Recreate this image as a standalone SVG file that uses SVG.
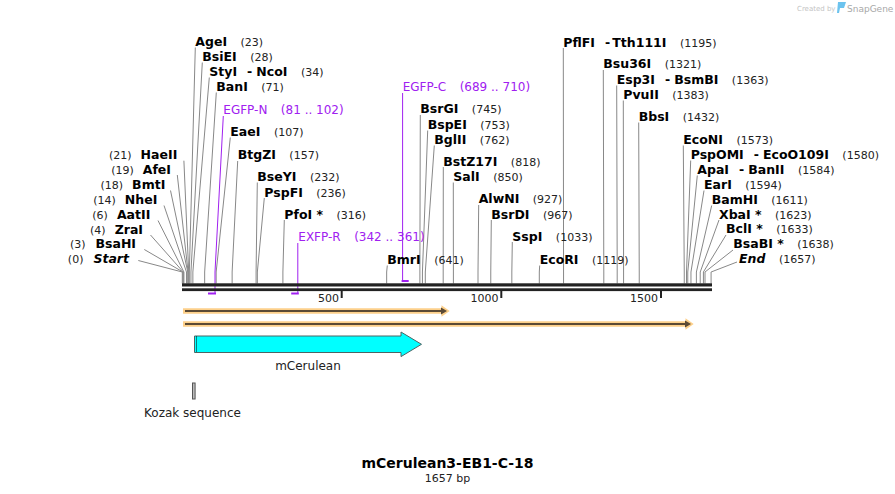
<svg xmlns="http://www.w3.org/2000/svg" width="895" height="494" viewBox="0 0 895 494">
<style>
text{font-family:"DejaVu Sans",Verdana,sans-serif}
.b{font-weight:bold;font-size:12.5px;fill:#000}
.i{font-weight:bold;font-style:italic;font-size:12.5px;fill:#000}
.n{font-size:11px;fill:#222}
.p{font-size:12px;fill:#a020f0}
.f{font-size:12px;fill:#222}
.ln{fill:none;stroke:#888;stroke-width:1}
.pl{fill:none;stroke:#a020f0;stroke-width:1}
.ph{fill:none;stroke:#a020f0;stroke-width:2}
.tk{stroke:#222;stroke-width:2}
</style>
<rect width="895" height="494" fill="#fff"/>

<g id="logo">
<text x="797" y="10.5" style="font-size:7px;fill:#c4c4c4">Created by</text>
<path d="M838,2 L846,2 L844,8 L840,8 L839,13 L837,13 Z" fill="#6cc3ee"/>
<text x="847" y="11.5" style="font-size:9px;fill:#a8a8a8">SnapGene</text>
</g>

<g id="connectors">
<polyline class="ln" points="188.71,283.5 188.71,272 183.9,160.7"/>
<polyline class="ln" points="188.07,283.5 188.07,272 177.3,175"/>
<polyline class="ln" points="187.75,283.5 187.75,272 170.5,190.5"/>
<polyline class="ln" points="186.47,283.5 186.47,272 164,205.5"/>
<polyline class="ln" points="183.92,283.5 183.92,272 158,220.5"/>
<polyline class="ln" points="183.28,283.5 183.28,272 150.5,235"/>
<polyline class="ln" points="182.96,283.5 182.96,272 144.3,249.5"/>
<polyline class="ln" points="182.3,283.5 182.3,272 138.3,260.5"/>
<polyline class="ln" points="189.34,283.5 189.34,272 195.3,47.5"/>
<polyline class="ln" points="190.94,283.5 190.94,272 202.3,62.5"/>
<polyline class="ln" points="192.86,283.5 192.86,272 209.3,77.5"/>
<polyline class="ln" points="204.67,283.5 204.67,272 216.3,92.5"/>
<polyline class="ln" points="216.17,283.5 216.17,272 230.3,137.5"/>
<polyline class="ln" points="232.13,283.5 232.13,272 237.7,161"/>
<polyline class="ln" points="256.08,283.5 256.08,272 257.3,182.5"/>
<polyline class="ln" points="257.35,283.5 257.35,272 264.3,198"/>
<polyline class="ln" points="282.9,283.5 282.9,272 284.3,220"/>
<polyline class="ln" points="386.67,283.5 386.67,272 387.3,265.5"/>
<polyline class="ln" points="419.88,283.5 419.88,272 420.3,115"/>
<polyline class="ln" points="422.43,283.5 422.43,272 427.7,130.5"/>
<polyline class="ln" points="425.31,283.5 425.31,272 434.3,145.5"/>
<polyline class="ln" points="443.19,283.5 443.19,272 443.3,167"/>
<polyline class="ln" points="453.4,283.5 453.4,272 453.3,182.5"/>
<polyline class="ln" points="478.0,283.5 478.0,272 478.7,205"/>
<polyline class="ln" points="490.77,283.5 490.77,272 491.3,220"/>
<polyline class="ln" points="511.84,283.5 511.84,272 512.3,242"/>
<polyline class="ln" points="539.3,283.5 539.3,272 539.7,265.5"/>
<polyline class="ln" points="563.56,283.5 563.56,272 563.3,48"/>
<polyline class="ln" points="603.8,283.5 603.8,272 603.3,70"/>
<polyline class="ln" points="617.2,283.5 617.2,272 616.7,85.5"/>
<polyline class="ln" points="623.59,283.5 623.59,272 623.3,100.5"/>
<polyline class="ln" points="639.24,283.5 639.24,272 638.7,122.5"/>
<polyline class="ln" points="684.26,283.5 684.26,272 683.3,145.5"/>
<polyline class="ln" points="686.5,283.5 686.5,272 690.7,160.5"/>
<polyline class="ln" points="687.77,283.5 687.77,272 697.3,175.5"/>
<polyline class="ln" points="690.96,283.5 690.96,272 704,190.5"/>
<polyline class="ln" points="696.39,283.5 696.39,272 711.7,205.5"/>
<polyline class="ln" points="700.22,283.5 700.22,272 719,220"/>
<polyline class="ln" points="703.42,283.5 703.42,272 726,235"/>
<polyline class="ln" points="705.01,283.5 705.01,272 733,250"/>
<polyline class="ln" points="711.08,283.5 711.08,272 737,262"/>
<polyline class="pl" points="223.3,116 215,272 215,293.5"/>
<line class="ph" x1="208" y1="293.5" x2="216" y2="293.5"/>
<polyline class="pl" points="297.8,243 297.8,293.5"/>
<line class="ph" x1="291.2" y1="293.5" x2="298.8" y2="293.5"/>
<polyline class="pl" points="402.6,93 402.6,281"/>
<line class="ph" x1="401.6" y1="281" x2="408.7" y2="281"/>
</g>

<g id="map">
<rect x="182" y="283.3" width="530" height="3.2" fill="#222"/>
<rect x="182" y="288.3" width="530" height="2.8" fill="#222"/>
<line class="tk" x1="341.7" y1="291" x2="341.7" y2="298"/>
<line class="tk" x1="501.3" y1="291" x2="501.3" y2="298"/>
<line class="tk" x1="661" y1="291" x2="661" y2="298"/>
<text class="n" x="339" y="301.5" text-anchor="end">500</text>
<text class="n" x="498.5" y="301.5" text-anchor="end">1000</text>
<text class="n" x="658" y="301.5" text-anchor="end">1500</text>
</g>

<g id="left-labels">
<text x="177.3" y="159.3" text-anchor="end"><tspan class="n">(21)</tspan><tspan class="b" dx="9">HaeII</tspan></text>
<text x="171" y="174" text-anchor="end"><tspan class="n">(19)</tspan><tspan class="b" dx="9">AfeI</tspan></text>
<text x="165.3" y="189" text-anchor="end"><tspan class="n">(18)</tspan><tspan class="b" dx="9">BmtI</tspan></text>
<text x="157.3" y="204" text-anchor="end"><tspan class="n">(14)</tspan><tspan class="b" dx="9">NheI</tspan></text>
<text x="150.3" y="218.7" text-anchor="end"><tspan class="n">(6)</tspan><tspan class="b" dx="9">AatII</tspan></text>
<text x="143" y="233.7" text-anchor="end"><tspan class="n">(4)</tspan><tspan class="b" dx="9">ZraI</tspan></text>
<text x="136" y="248.3" text-anchor="end"><tspan class="n">(3)</tspan><tspan class="b" dx="10">BsaHI</tspan></text>
<text x="129" y="263.3" text-anchor="end"><tspan class="n">(0)</tspan><tspan class="i" dx="10">Start</tspan></text>
</g>

<g id="top-labels">
<text x="195.3" y="46"><tspan class="b">AgeI</tspan><tspan class="n" dx="13.5">(23)</tspan></text>
<text x="202.3" y="61"><tspan class="b">BsiEI</tspan><tspan class="n" dx="13.5">(28)</tspan></text>
<text x="209.3" y="76"><tspan class="b">StyI</tspan><tspan class="b" dx="10">-</tspan><tspan class="b" dx="4">NcoI</tspan><tspan class="n" dx="13.5">(34)</tspan></text>
<text x="216.3" y="91"><tspan class="b">BanI</tspan><tspan class="n" dx="13.5">(71)</tspan></text>
<text x="230.3" y="136"><tspan class="b">EaeI</tspan><tspan class="n" dx="13.5">(107)</tspan></text>
<text x="237.7" y="159.3"><tspan class="b">BtgZI</tspan><tspan class="n" dx="13.5">(157)</tspan></text>
<text x="257.3" y="181"><tspan class="b">BseYI</tspan><tspan class="n" dx="13.5">(232)</tspan></text>
<text x="264.3" y="196.7"><tspan class="b">PspFI</tspan><tspan class="n" dx="13.5">(236)</tspan></text>
<text x="284.3" y="218.5"><tspan class="b">PfoI *</tspan><tspan class="n" dx="13.5">(316)</tspan></text>
<text x="387.3" y="264"><tspan class="b">BmrI</tspan><tspan class="n" dx="13.5">(641)</tspan></text>
<text x="420.3" y="113.3"><tspan class="b">BsrGI</tspan><tspan class="n" dx="13.5">(745)</tspan></text>
<text x="427.7" y="129"><tspan class="b">BspEI</tspan><tspan class="n" dx="13.5">(753)</tspan></text>
<text x="434.3" y="144"><tspan class="b">BglII</tspan><tspan class="n" dx="13.5">(762)</tspan></text>
<text x="443.3" y="165.7"><tspan class="b">BstZ17I</tspan><tspan class="n" dx="13.5">(818)</tspan></text>
<text x="453.3" y="181"><tspan class="b">SalI</tspan><tspan class="n" dx="13.5">(850)</tspan></text>
<text x="478.7" y="203.3"><tspan class="b">AlwNI</tspan><tspan class="n" dx="13.5">(927)</tspan></text>
<text x="491.3" y="218.7"><tspan class="b">BsrDI</tspan><tspan class="n" dx="13.5">(967)</tspan></text>
<text x="512.3" y="240.7"><tspan class="b">SspI</tspan><tspan class="n" dx="13.5">(1033)</tspan></text>
<text x="539.7" y="264"><tspan class="b">EcoRI</tspan><tspan class="n" dx="13.5">(1119)</tspan></text>
<text x="563.3" y="46.7"><tspan class="b">PflFI</tspan><tspan class="b" dx="10">-</tspan><tspan class="b" dx="4">Tth111I</tspan><tspan class="n" dx="13.5">(1195)</tspan></text>
<text x="603.3" y="68.3"><tspan class="b">Bsu36I</tspan><tspan class="n" dx="13.5">(1321)</tspan></text>
<text x="616.7" y="84"><tspan class="b">Esp3I</tspan><tspan class="b" dx="10">-</tspan><tspan class="b" dx="4">BsmBI</tspan><tspan class="n" dx="13.5">(1363)</tspan></text>
<text x="623.3" y="99"><tspan class="b">PvuII</tspan><tspan class="n" dx="13.5">(1383)</tspan></text>
<text x="638.7" y="121"><tspan class="b">BbsI</tspan><tspan class="n" dx="13.5">(1432)</tspan></text>
</g>

<g id="right-labels">
<text x="683.3" y="144"><tspan class="b">EcoNI</tspan><tspan class="n" dx="13.5">(1573)</tspan></text>
<text x="690.7" y="159"><tspan class="b">PspOMI</tspan><tspan class="b" dx="10">-</tspan><tspan class="b" dx="4">EcoO109I</tspan><tspan class="n" dx="13.5">(1580)</tspan></text>
<text x="697.3" y="174"><tspan class="b">ApaI</tspan><tspan class="b" dx="10">-</tspan><tspan class="b" dx="4">BanII</tspan><tspan class="n" dx="13.5">(1584)</tspan></text>
<text x="704" y="189"><tspan class="b">EarI</tspan><tspan class="n" dx="13.5">(1594)</tspan></text>
<text x="711.7" y="204"><tspan class="b">BamHI</tspan><tspan class="n" dx="13.5">(1611)</tspan></text>
<text x="719" y="218.7"><tspan class="b">XbaI *</tspan><tspan class="n" dx="13.5">(1623)</tspan></text>
<text x="726" y="233.3"><tspan class="b">BclI *</tspan><tspan class="n" dx="13.5">(1633)</tspan></text>
<text x="733.3" y="248.3"><tspan class="b">BsaBI *</tspan><tspan class="n" dx="13.5">(1638)</tspan></text>
<text x="739" y="263.3"><tspan class="i">End</tspan><tspan class="n" dx="13.5">(1657)</tspan></text>
</g>

<g id="primers">
<text x="223.3" y="114"><tspan class="p">EGFP-N</tspan><tspan class="p" dx="13.5">(81 .. 102)</tspan></text>
<text x="298.3" y="240.7"><tspan class="p">EXFP-R</tspan><tspan class="p" dx="13.5">(342 .. 361)</tspan></text>
<text x="402.7" y="90.7"><tspan class="p">EGFP-C</tspan><tspan class="p" dx="13.5">(689 .. 710)</tspan></text>
</g>

<g id="orf1">
<polygon points="183,308.3 441.5,308.3 441.5,305.3 449.7,311 441.5,316.7 441.5,313.7 183,313.7" fill="#fdd08a"/>
<rect x="185" y="310" width="257" height="2" fill="#5b4a35"/>
<polygon points="441,307.5 447,311 441,314.5" fill="#5b4a35"/>
</g>
<g id="orf2">
<polygon points="183,321.3 685.5,321.3 685.5,318.3 693.7,324 685.5,329.7 685.5,326.7 183,326.7" fill="#fdd08a"/>
<rect x="185" y="323" width="501" height="2" fill="#5b4a35"/>
<polygon points="685,320.5 691,324 685,327.5" fill="#5b4a35"/>
</g>

<g id="mCerulean">
<polygon points="194.5,336 401,336 401,332 421.5,344.3 401,356.6 401,352.5 194.5,352.5" fill="#00ffff" stroke="#4d6464" stroke-width="1"/>
<line x1="196.5" y1="336.5" x2="196.5" y2="352" stroke="#000" stroke-width="1" stroke-dasharray="1,1"/>
<text class="f" x="308" y="370" text-anchor="middle">mCerulean</text>
</g>

<g id="kozak">
<rect x="192.5" y="383" width="2.6" height="16" fill="#bbb" stroke="#555" stroke-width="1"/>
<text class="f" x="192.5" y="416.5" text-anchor="middle">Kozak sequence</text>
</g>

<g id="title">
<text x="447.5" y="468" text-anchor="middle" style="font-weight:bold;font-size:14px;fill:#000">mCerulean3-EB1-C-18</text>
<text class="n" x="447.5" y="481.5" text-anchor="middle">1657 bp</text>
</g>
</svg>
